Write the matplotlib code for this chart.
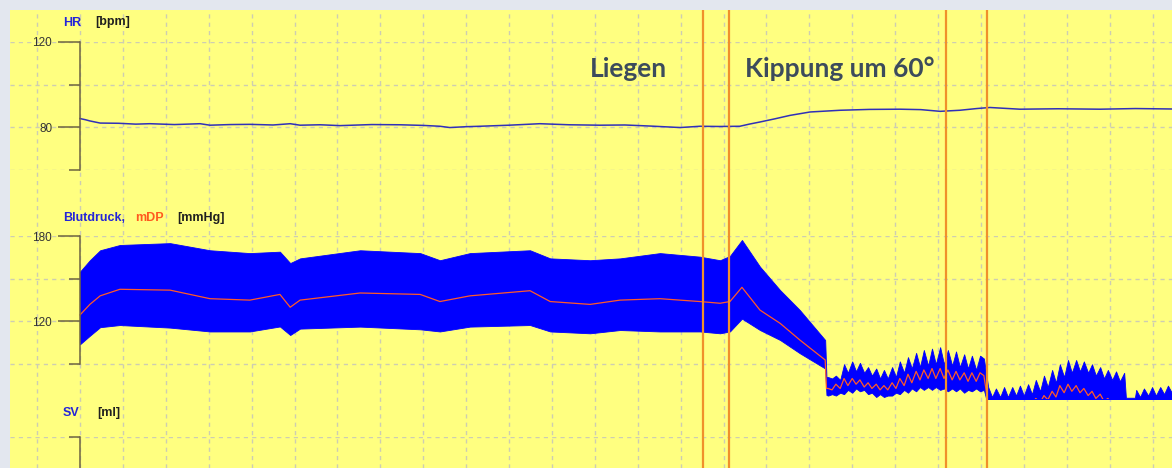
import matplotlib.pyplot as plt

# ---- Daten (Zeit in Rastereinheiten ab Achse) ----
hr_t = [0.0, 0.12, 0.23, 0.47, 0.9, 1.3, 1.63, 2.2, 2.8, 3.03, 3.5, 3.96, 4.5, 4.9,
        5.13, 5.6, 6.06, 6.8, 7.46, 8.0, 8.39, 8.62, 9.0, 9.32, 10.0, 10.72, 11.4,
        12.12, 12.7, 13.29, 13.99, 14.45, 14.9, 15.38, 15.6, 15.85, 16.2, 16.55,
        17.02, 17.72, 18.4, 19.11, 19.6, 20.05, 20.51, 20.9, 21.21, 21.91, 22.8,
        23.78, 24.6, 25.45]
hr_bpm = [84.1, 83.6, 83.0, 82.0, 81.9, 81.5, 81.7, 81.3, 81.7, 81.0, 81.3, 81.4,
          81.1, 81.7, 81.0, 81.2, 80.8, 81.3, 81.2, 80.9, 80.5, 79.9, 80.3, 80.5,
          81.0, 81.7, 81.2, 81.0, 81.1, 80.6, 79.9, 80.5, 80.4, 80.5, 81.5, 82.5,
          84.0, 85.6, 87.2, 88.0, 88.4, 88.5, 88.3, 87.5, 88.0, 88.8, 89.3, 88.5,
          88.7, 88.5, 88.8, 88.6]

# Blutdruck: Liegen und Uebergang
bp_t_a = [0.0, 0.23, 0.47, 0.93, 2.1, 3.03, 3.96, 4.66, 4.9, 5.13, 6.53, 7.93, 8.39,
          9.09, 10.49, 10.96, 11.89, 12.59, 13.52, 14.45, 14.92, 15.15, 15.43, 15.85,
          16.32, 16.78, 17.37, 17.40]
bp_sys_a = [155, 163, 170, 173.7, 175, 170, 168, 169, 161, 164.3, 170, 168, 163,
            168, 170, 164.3, 163, 164.3, 168, 165.5, 163, 166, 177.2, 158.5,
            142, 128, 107, 81]
bp_dia_a = [104, 110, 116, 117.5, 115.7, 113, 113, 116.5, 110.5, 115, 116.4, 114.5, 113,
            116.4, 117.5, 113, 111.7, 114, 113, 113, 111.7, 113, 122, 114,
            107, 97.7, 87, 68.4]
bp_mdp_a = [124.6, 132, 138, 142.6, 142, 136, 135, 139, 130, 135, 140, 139, 134,
            138, 141.6, 134, 132, 135, 136, 134, 132.8, 134, 144, 128,
            118.7, 107, 93, 73]

# Blutdruck: erste Kippphase
bp_t_b = [17.44, 17.53, 17.62, 17.72, 17.81, 17.90, 18.00, 18.09, 18.18, 18.28,
          18.37, 18.46, 18.56, 18.65, 18.74, 18.83, 18.93, 19.02, 19.11, 19.21,
          19.30, 19.39, 19.49, 19.58, 19.67, 19.77, 19.86, 19.95, 20.05, 20.14,
          20.23, 20.33, 20.42, 20.51, 20.61, 20.70, 20.79, 20.89, 20.98, 21.07]
bp_sys_b = [81, 80, 82, 79, 90, 84, 92, 85, 91, 84, 88, 82, 87, 80, 86, 80, 88, 81,
            92, 84, 95, 87, 98, 88, 100, 89, 101, 90, 102, 90, 100, 89, 99, 88,
            97, 87, 96, 86, 96, 94]
bp_dia_b = [68, 69, 68, 70, 69, 72, 70, 73, 71, 72, 69, 70, 67, 69, 67, 68, 68, 70,
            69, 72, 70, 73, 71, 74, 72, 74, 72, 74, 72, 73, 71, 73, 71, 73, 70, 72,
            71, 73, 71, 72]
bp_mdp_b = [73, 72, 76, 73, 80, 75, 80, 76, 79, 74, 77, 73, 76, 72, 75, 72, 77, 73,
            80, 75, 83, 77, 85, 79, 86, 80, 87, 80, 87, 80, 86, 79, 85, 79, 84, 78,
            84, 78, 84, 82]

# Blutdruck: zweite Kippphase (unten abgeschnitten)
bp_t_c = [21.17, 21.26, 21.35, 21.45, 21.54, 21.63, 21.73, 21.82, 21.91, 22.00,
          22.10, 22.19, 22.28, 22.38, 22.47, 22.56, 22.66, 22.75, 22.84, 22.94,
          23.03, 23.12, 23.22, 23.31, 23.40, 23.50, 23.59, 23.68, 23.78, 23.87,
          23.96, 24.06, 24.15, 24.24, 24.34, 24.38, 24.59, 24.62, 24.71, 24.80,
          24.90, 24.99, 25.08, 25.18, 25.27, 25.36, 25.45]
bp_sys_c = [74, 67, 73, 67, 74, 67, 74, 68, 75, 68, 76, 69, 79, 71, 82, 74, 86, 77,
            90, 81, 93, 84, 93, 85, 92, 84, 90, 82, 88, 80, 86, 79, 85, 78, 84,
            66.5, 66.5, 72, 67, 73, 68, 74, 68, 74, 69, 75, 70]
bp_dia_c = [60] * 47
bp_mdp_c = [62, 62, 62, 62, 62, 62, 62, 62, 62, 62, 64, 62, 66, 63, 68, 65, 71, 67,
            75, 70, 76, 71, 75, 70, 73, 68, 71, 66, 69, 64, 66, 62, 64, 62, 62,
            62, 62, 62, 62, 62, 62, 62, 62, 62, 62, 62, 62]

events_t = [14.52, 15.13, 20.19, 21.14]

bp_t = bp_t_a + bp_t_b + bp_t_c
bp_sys = bp_sys_a + bp_sys_b + bp_sys_c
bp_dia = bp_dia_a + bp_dia_b + bp_dia_c
bp_mdp = bp_mdp_a + bp_mdp_b + bp_mdp_c

# ---- Layout in Pixeln ----
W, H = 1172, 468
T0_PX, GRID_PX = 80, 42.9
t_left = (10 - T0_PX) / GRID_PX
t_right = (W - T0_PX) / GRID_PX

yellow = '#ffff80'
grid_col = '#cdcdb2'
axis_col = '#6e6440'
dash = (0, (3, 3))

fig = plt.figure(figsize=(W / 100, H / 100), dpi=100, facecolor='#e3e7ef')


def fx(px):
    return px / W


def fy(py):
    return 1 - py / H


def panel(top, bottom):
    return fig.add_axes([fx(10), fy(bottom), fx(W - 10), (bottom - top) / H])


def style_panel(ax, lo, hi, major, minor, bounds=None):
    ax.set_facecolor('none')
    ax.set_xlim(t_left, t_right)
    ax.set_ylim(lo, hi)
    for s in ['top', 'right', 'bottom']:
        ax.spines[s].set_visible(False)
    ax.spines['left'].set_position(('data', 0))
    ax.spines['left'].set_color(axis_col)
    ax.spines['left'].set_linewidth(1.1)
    if bounds:
        ax.spines['left'].set_bounds(*bounds)
    ax.set_xticks([])
    ax.set_yticks(major)
    ax.set_yticks(minor, minor=True)
    ax.tick_params(axis='y', which='major', length=16, width=1.1, color=axis_col,
                   labelsize=8.5, labelcolor='#333333', pad=4)
    ax.tick_params(axis='y', which='minor', length=8, width=1.1, color=axis_col)
    for lab in ax.get_yticklabels():
        lab.set_family('Liberation Sans')
    ax.grid(axis='y', which='both', color=grid_col, linestyle=dash, linewidth=1)
    ax.set_axisbelow(True)


# Hintergrund mit senkrechtem Raster
bg = panel(10, 468)
bg.set_facecolor(yellow)
bg.set_xlim(t_left, t_right)
bg.set_ylim(0, 1)
bg.set_xticks(range(-1, 26))
bg.set_yticks([])
bg.tick_params(axis='x', length=0, labelbottom=False)
for s in bg.spines.values():
    s.set_visible(False)
bg.grid(axis='x', color=grid_col, linestyle=dash, linewidth=1)

# HR
ax_hr = panel(42, 170)
style_panel(ax_hr, 60, 120, [80, 120], [60, 100])
ax_hr.plot(hr_t, hr_bpm, color='#3030b8', linewidth=1.1)

# Blutdruck
ax_bp = panel(236, 399)
style_panel(ax_bp, 65.6, 180, [120, 180], [90, 150], bounds=(90, 180))
ax_bp.fill_between(bp_t, bp_dia, bp_sys, color='#0000ff', linewidth=0.6,
                   edgecolor='#0000ff')
ax_bp.plot(bp_t, bp_mdp, color='#ff5a28', linewidth=0.9)

# SV
ax_sv = panel(437, 468)
style_panel(ax_sv, 0, 1, [], [1])

# Ereignislinien und Beschriftung
ov = panel(10, 468)
ov.set_facecolor('none')
ov.set_xlim(t_left, t_right)
ov.set_ylim(0, 1)
ov.axis('off')
for t in events_t:
    ov.axvline(t, color='#f0902c', linewidth=1.6)

big = dict(family=['Lato', 'DejaVu Sans'], fontweight='bold', fontsize=19,
           color='#3c4b5c', va='baseline')
fig.text(fx(590), fy(77), 'Liegen', **big)
fig.text(fx(745), fy(77), 'Kippung um 60°', **big)

small = dict(family='Liberation Sans', fontweight='bold', fontsize=9, va='center')
fig.text(fx(63), fy(22.5), 'HR', color='#2424d8', **small)
fig.text(fx(95), fy(22.5), '[bpm]', color='#202020', **small)
fig.text(fx(63), fy(218), 'Blutdruck,', color='#2424d8', **small)
fig.text(fx(135), fy(218), 'mDP', color='#ff5a1e', **small)
fig.text(fx(177), fy(218), '[mmHg]', color='#202020', **small)
fig.text(fx(63), fy(413), 'SV', color='#2424d8', **small)
fig.text(fx(97), fy(413), '[ml]', color='#202020', **small)

fig.savefig('out.png', dpi=100, facecolor=fig.get_facecolor())
